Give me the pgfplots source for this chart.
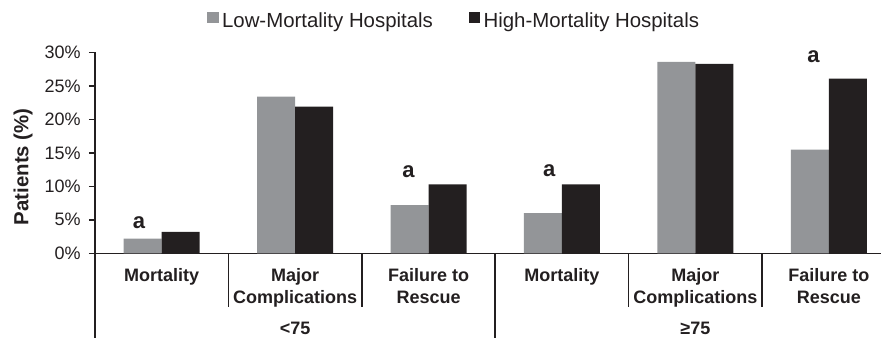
\documentclass[border=0pt]{standalone}
\usepackage{fontspec}
\setmainfont{Liberation Sans}
\usepackage{pgfplots}
\pgfplotsset{compat=1.18}

\definecolor{lowgray}{HTML}{939598}
\definecolor{highblack}{HTML}{231F20}
\definecolor{ink}{HTML}{231F20}

\begin{document}
\begin{tikzpicture}[font=\fontsize{9}{10.8}\selectfont, text=ink]
\begin{axis}[
  at={(0,0)}, anchor=south west,
  scale only axis, width=392.9pt, height=100.4pt,
  xmin=-0.5, xmax=5.39, ymin=0, ymax=30,
  enlargelimits=false, clip=false,
  axis lines*=left,
  axis line style={-, line width=0.75pt, ink},
  ybar=0pt, bar width=19pt,
  ytick={0,5,...,30},
  yticklabels={0\%,5\%,10\%,15\%,20\%,25\%,30\%},
  ytick align=outside, major tick length=3pt,
  y tick style={line width=0.75pt, ink},
  yticklabel style={anchor=east, inner sep=0pt, xshift=-4pt,
                    font=\fontsize{9}{10.8}\selectfont},
  xtick={0,...,5},
  xticklabels={Mortality, {Major\\Complications}, {Failure to\\Rescue},
               Mortality, {Major\\Complications}, {Failure to\\Rescue}},
  xticklabel style={font=\bfseries\fontsize{9}{10.8}\selectfont, align=center,
                    anchor=north, inner sep=0pt, yshift=-4.5pt},
  x tick style={draw=none},
  ylabel={Patients (\%)},
  ylabel style={font=\bfseries\fontsize{10.2}{12}\selectfont,
                at={(axis description cs:-0.0916,0.431)}, anchor=center},
  legend columns=2,
  legend style={draw=none, fill=none, inner sep=0pt,
                at={(axis description cs:0.1425,1.155)}, anchor=west,
                font=\fontsize{10.2}{12}\selectfont,
                nodes={inner sep=0pt},
                /tikz/every odd column/.append style={column sep=1.75pt},
                /tikz/every even column/.append style={column sep=18pt}},
  legend image code/.code={\fill[#1] (0pt,-0.6pt) rectangle (5.6pt,4.8pt);},
]
\addplot[fill=lowgray, draw=none]
  coordinates {(0,2.2) (1,23.4) (2,7.2) (3,6.0) (4,28.6) (5,15.5)};
\addplot[fill=highblack, draw=none]
  coordinates {(0,3.2) (1,21.9) (2,10.3) (3,10.3) (4,28.3) (5,26.1)};
\legend{Low-Mortality Hospitals, High-Mortality Hospitals}

% significance markers
\begin{scope}[every node/.style={font=\bfseries\fontsize{11}{13}\selectfont, anchor=base, text=ink}]
\node at (axis cs:-0.17,3.74) {a};
\node at (axis cs:1.849,11.36) {a};
\node at (axis cs:2.905,11.45) {a};
\node at (axis cs:4.885,28.55) {a};
\end{scope}

% category separators
\pgfplotsinvokeforeach{0.5,1.5,3.5,4.5}{
  \draw[ink, line width=0.75pt] (axis cs:#1,0) -- ++(0pt,-26.7pt);
}
\pgfplotsinvokeforeach{-0.5,2.5}{
  \draw[ink, line width=0.75pt] (axis cs:#1,0) -- ++(0pt,-42.3pt);
}

% age groups
\node[anchor=base, font=\bfseries\fontsize{9}{10.8}\selectfont]
  at ([yshift=-40.85pt]axis cs:1,0) {<75};
\node[anchor=base, font=\bfseries\fontsize{9}{10.8}\selectfont]
  at ([yshift=-40.85pt]axis cs:4,0) {≥75};
\end{axis}
\pgfresetboundingbox
\useasboundingbox (-47.5pt,-43.85pt) rectangle (393pt,126.65pt);
\end{tikzpicture}
\end{document}
